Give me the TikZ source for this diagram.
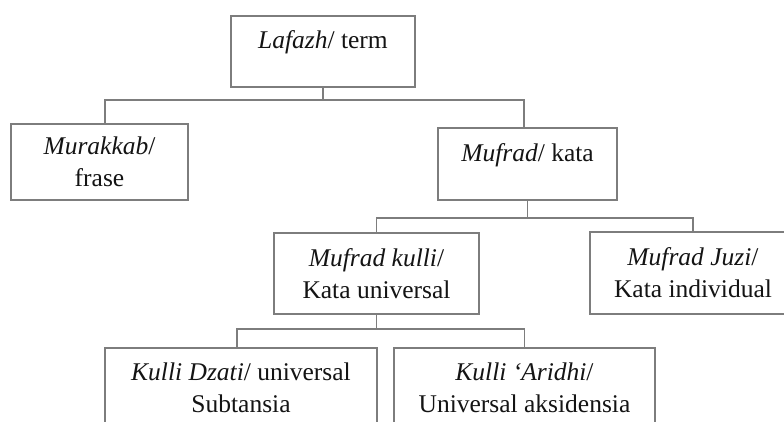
\documentclass[tikz,border=0pt]{standalone}
\usepackage{fontspec}
\setmainfont{Liberation Serif}
\definecolor{linegray}{RGB}{125,125,125}
\definecolor{textcol}{RGB}{20,20,20}
\begin{document}
\begin{tikzpicture}[x=1pt,y=-1pt,
  box/.style={draw=linegray, line width=1.5pt, fill=white, text=textcol,
    align=center, inner sep=0pt, font=\fontsize{25.5}{32}\selectfont},
  conn/.style={draw=linegray, line width=1.5pt}]
\clip (0,0) rectangle (784,421);
\fill[white] (0,0) rectangle (784,421);

\node[box, minimum width=184pt, minimum height=71pt, text height=17pt, text depth=24pt] (laf) at (323,51.5) {\textit{Lafazh}/ term};
\node[box, minimum width=177pt, minimum height=76pt] (mur) at (99.5,162) {\textit{Murakkab}/\\ frase};
\node[box, minimum width=179pt, minimum height=72pt, text height=17pt, text depth=23pt] (muf) at (527.5,164) {\textit{Mufrad}/ kata};
\node[box, minimum width=205pt, minimum height=81pt] (kul) at (376.5,273.5) {\textit{Mufrad kulli}/\\ Kata universal};
\node[box, minimum width=206pt, minimum height=82pt] (juz) at (693,273) {\textit{Mufrad Juzi}/\\ Kata individual};
\node[box, minimum width=272pt, minimum height=80pt] (dza) at (241,388) {\textit{Kulli Dzati}/ universal\\ Subtansia};
\node[box, minimum width=261pt, minimum height=80pt] (ari) at (524.5,388) {\textit{Kulli ‘Aridhi}/\\ Universal aksidensia};

\draw[conn] (laf.south) -- ++(0,12) -| ([xshift=5.5pt]mur.north);
\draw[conn] (laf.south) -- ++(0,12) -| ([xshift=-3.5pt]muf.north);
\draw[conn] (muf.south) -- ++(0,17) -| (kul.north);
\draw[conn] (muf.south) -- ++(0,17) -| (juz.north);
\draw[conn] (kul.south) -- ++(0,14) -| ([xshift=-4pt]dza.north);
\draw[conn] (kul.south) -- ++(0,14) -| (ari.north);
\end{tikzpicture}
\end{document}
